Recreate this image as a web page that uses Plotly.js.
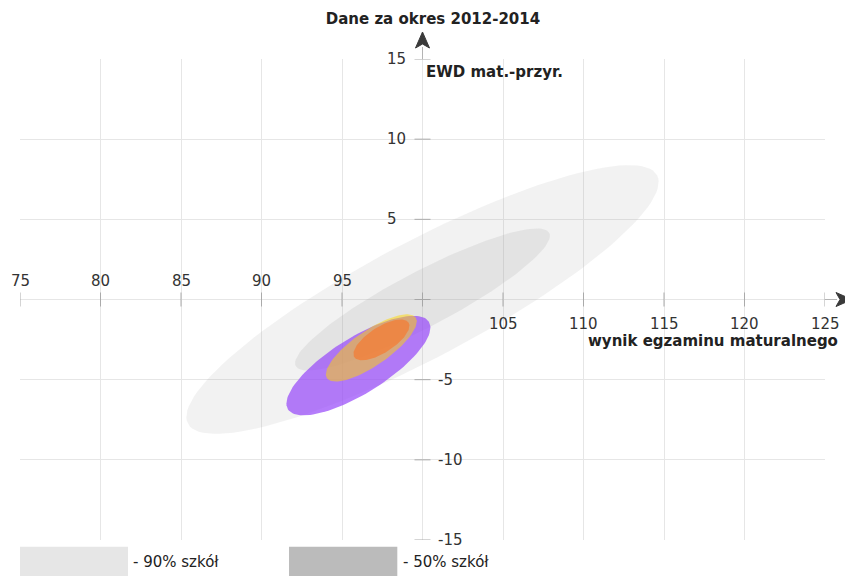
<!DOCTYPE html>
<html>
<head>
<meta charset="utf-8">
<script src="https://cdn.plot.ly/plotly-3.0.1.min.js"></script>
<style>
  html, body { margin: 0; padding: 0; background: #ffffff; }
  #chart { width: 845px; height: 576px; }
</style>
</head>
<body>
<div id="chart"></div>
<script>
// ---- data ----
const ellipseNames = ['90% szkół', '50% szkół', 'szkoła 1', 'szkoła 2', 'szkoła 3'];
const centerX   = [100, 100, 96.02, 96.82, 97.45];   // wynik egzaminu maturalnego
const centerY   = [0, 0, -4.12, -3.02, -2.52];       // EWD mat.-przyr.
const semiMajor = [16.5, 8.9, 5.16, 3.34, 2.0];
const semiMinor = [3.62, 1.73, 1.74, 1.1, 0.8];
const angleDeg  = [28, 27.8, 32, 34.5, 32.7];
const fillColors = ['rgba(160,160,160,0.14)', 'rgba(160,160,160,0.18)',
                    'rgba(150,70,250,0.7)', 'rgba(255,215,0,0.5)', 'rgba(255,110,30,0.55)'];

const xTickVals = [75, 80, 85, 90, 95, 100, 105, 110, 115, 120, 125];
const xTickText = ['75', '80', '85', '90', '95', '', '105', '110', '115', '120', '125'];
const yTickVals = [15, 10, 5, 0, -5, -10, -15];
const yTickText = ['15', '10', '5', '', '-5', '-10', '-15'];

const legendLabels = ['- 90% szkół', '- 50% szkół'];
const legendColors = ['#e6e6e6', '#bbbbbb'];

const titleText = 'Dane za okres 2012-2014';
const xTitle = 'wynik egzaminu maturalnego';
const yTitle = 'EWD mat.-przyr.';

// ---- build ellipse outlines ----
function ellipse(i) {
  const th = angleDeg[i] * Math.PI / 180;
  const xs = [], ys = [];
  const N = 120;
  for (let k = 0; k <= N; k++) {
    const t = 2 * Math.PI * k / N;
    const u = semiMajor[i] * Math.cos(t), v = semiMinor[i] * Math.sin(t);
    xs.push(centerX[i] + u * Math.cos(th) - v * Math.sin(th));
    ys.push(centerY[i] + u * Math.sin(th) + v * Math.cos(th));
  }
  return {x: xs, y: ys};
}

const traces = ellipseNames.map((n, i) => {
  const e = ellipse(i);
  return {
    type: 'scatter', mode: 'lines', name: n,
    x: e.x, y: e.y, fill: 'toself', fillcolor: fillColors[i],
    line: {width: 0, color: 'rgba(0,0,0,0)'}, hoverinfo: 'skip', showlegend: false
  };
});

const FONT = 'DejaVu Sans';
const shapes = [];
const annotations = [];

// axis lines crossing at (100, 0)
shapes.push({type: 'line', layer: 'between', xref: 'x', yref: 'paper', x0: 100, x1: 100, y0: 0, y1: 1.025,
             line: {color: '#b4b4b4', width: 1}});
shapes.push({type: 'line', layer: 'between', xref: 'paper', yref: 'y', x0: 0, x1: 1.015, y0: 0, y1: 0,
             line: {color: '#b4b4b4', width: 1}});

// arrow heads (pixel-sized, anchored on the axes)
shapes.push({type: 'path', layer: 'above', xref: 'x', yref: 'paper', xsizemode: 'pixel', ysizemode: 'pixel',
             xanchor: 100, yanchor: 1, path: 'M 0 27 L -7 11 L 0 15 L 7 11 Z',
             fillcolor: '#3a3a3a', line: {color: '#3a3a3a', width: 1}});
shapes.push({type: 'path', layer: 'above', xref: 'paper', yref: 'y', xsizemode: 'pixel', ysizemode: 'pixel',
             xanchor: 1, yanchor: 0, path: 'M 27 0 L 11 7 L 15 0 L 11 -7 Z',
             fillcolor: '#3a3a3a', line: {color: '#3a3a3a', width: 1}});

// tick marks and labels
xTickVals.forEach((v, i) => {
  shapes.push({type: 'line', layer: 'between', xref: 'x', yref: 'y', ysizemode: 'pixel', yanchor: 0,
               x0: v, x1: v, y0: -7, y1: 7, line: {color: '#aaaaaa', width: 1}});
  if (xTickText[i]) {
    annotations.push({xref: 'x', yref: 'y', x: v, y: 0, text: xTickText[i], showarrow: false,
      xanchor: 'center', yanchor: 'middle', yshift: v < 100 ? 19 : -24,
      font: {family: FONT, size: 15, color: '#333'}});
  }
});
yTickVals.forEach((v, i) => {
  shapes.push({type: 'line', layer: 'between', xref: 'x', yref: 'y', xsizemode: 'pixel', xanchor: 100,
               x0: -8, x1: 8, y0: v, y1: v, line: {color: '#aaaaaa', width: 1}});
  if (yTickText[i]) {
    annotations.push({xref: 'x', yref: 'y', x: 100, y: v, text: yTickText[i], showarrow: false,
      xanchor: 'left', yanchor: 'middle', xshift: v > 0 ? -38 : 13,
      font: {family: FONT, size: 15, color: '#333'}});
  }
});

// axis titles
annotations.push({xref: 'x', yref: 'paper', x: 100, y: 0.974, xanchor: 'left', yanchor: 'middle', xshift: 1,
  text: '<b>' + yTitle + '</b>', showarrow: false, font: {family: FONT, size: 15, color: '#222'}});
annotations.push({xref: 'paper', yref: 'y', x: 1.0186, y: 0, xanchor: 'right', yanchor: 'middle', yshift: -41.5,
  text: '<b>' + xTitle + '</b>', showarrow: false, font: {family: FONT, size: 15, color: '#222'}});

// legend boxes
const legendX0 = [0, 0.3342];
const legendX1 = [0.1342, 0.4687];
legendLabels.forEach((lab, i) => {
  shapes.push({type: 'rect', xref: 'paper', yref: 'paper', x0: legendX0[i], x1: legendX1[i],
               y0: -0.0139, y1: -0.09, fillcolor: legendColors[i], line: {width: 0}});
  annotations.push({xref: 'paper', yref: 'paper', x: legendX1[i] + 0.004, y: -0.0457,
    xanchor: 'left', yanchor: 'middle', text: lab, showarrow: false,
    font: {family: FONT, size: 15, color: '#222'}});
});

const layout = {
  width: 845, height: 576,
  margin: {l: 20, r: 20, t: 59, b: 36, pad: 0},
  paper_bgcolor: '#ffffff', plot_bgcolor: '#ffffff',
  title: {text: '<b>' + titleText + '</b>', xref: 'paper', x: 0.513, xanchor: 'center',
          yref: 'container', y: 0.967, yanchor: 'middle',
          font: {family: FONT, size: 15, color: '#222'}},
  xaxis: {range: [75, 125], tickvals: xTickVals, showticklabels: false, ticks: '',
          showgrid: true, gridcolor: '#e6e6e6', gridwidth: 1, zeroline: false, showline: false, fixedrange: true},
  yaxis: {range: [-15, 15], tickvals: yTickVals, showticklabels: false, ticks: '',
          showgrid: true, gridcolor: '#e6e6e6', gridwidth: 1, zeroline: false, showline: false, fixedrange: true},
  shapes: shapes,
  annotations: annotations,
  showlegend: false
};

Plotly.newPlot('chart', traces, layout, {staticPlot: true, displayModeBar: false});
</script>
</body>
</html>
